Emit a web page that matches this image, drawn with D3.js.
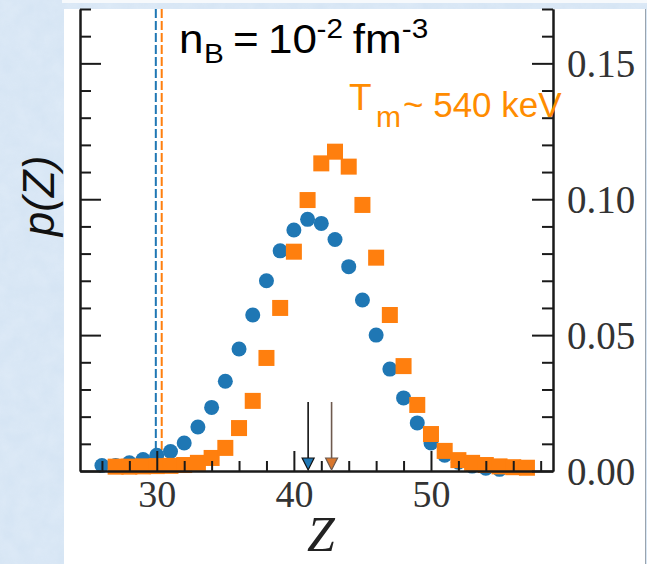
<!DOCTYPE html>
<html>
<head>
<meta charset="utf-8">
<script src="https://cdn.jsdelivr.net/npm/d3@7"></script>
<style>
  body { margin: 0; background: #d4e3f2; }
  svg { display: block; }
  .tick text { font-family: "Liberation Serif", "DejaVu Serif", serif; fill: #333; }
</style>
</head>
<body>
<svg id="chart" width="647" height="564"></svg>
<script>
// blue circles
const blueZ = [26, 27, 28, 29, 30, 31, 32, 33, 34, 35, 36, 37, 38, 39, 40, 41, 42, 43, 44, 45, 46, 47, 48, 49, 50, 51, 52, 53, 54, 55];
const blueP = [0.0020, 0.0020, 0.0030, 0.0042, 0.0058, 0.0072, 0.0103, 0.0162, 0.0234, 0.0330, 0.0449, 0.0574, 0.0700, 0.0810, 0.0887, 0.0926, 0.0911, 0.0852, 0.0752, 0.0629, 0.0500, 0.0375, 0.0269, 0.0177, 0.0103, 0.0058, 0.0032, 0.0018, 0.0010, 0.0006];
// orange squares
const orangeZ = [27, 28, 29, 30, 31, 32, 33, 34, 35, 36, 37, 38, 39, 40, 41, 42, 43, 44, 45, 46, 47, 48, 49, 50, 51, 52, 53, 54, 55, 56, 57];
const orangeP = [0.0016, 0.0016, 0.0017, 0.0018, 0.0019, 0.0022, 0.0030, 0.0048, 0.0085, 0.0158, 0.0258, 0.0416, 0.0600, 0.0807, 0.0997, 0.1132, 0.1175, 0.1120, 0.0979, 0.0785, 0.0574, 0.0386, 0.0243, 0.0136, 0.0074, 0.0040, 0.0030, 0.0022, 0.0017, 0.0014, 0.0012];
// vertical dashed thresholds and mean arrows
const thresholdZ = [29.93, 30.36];
const meanZ = [41.04, 42.75];
const xMajor = [30, 40, 50];
const xMinor = [26, 28, 32, 34, 36, 38, 42, 44, 46, 48, 52, 54, 56, 58];
const yMajor = [0, 0.05, 0.10, 0.15];
const yMinor = [0.01, 0.02, 0.03, 0.04, 0.06, 0.07, 0.08, 0.09, 0.11, 0.12, 0.13, 0.14, 0.16, 0.17];

const blue = "#1f77b4", orange = "#ff7f0e";
const svg = d3.select("#chart");

// slide background
const defs = svg.append("defs");
const f = defs.append("filter").attr("id", "tex").attr("x", 0).attr("y", 0).attr("width", 1).attr("height", 1);
f.append("feTurbulence").attr("type", "fractalNoise").attr("baseFrequency", "0.06").attr("numOctaves", 3).attr("seed", 4);
f.append("feColorMatrix").attr("type", "matrix")
  .attr("values", "0 0 0 0 0.78  0 0 0 0 0.86  0 0 0 0 0.95  0 0 0 -1.1 0.9");
svg.append("rect").attr("width", 647).attr("height", 564).attr("fill", "#d6e5f4");
svg.append("rect").attr("width", 647).attr("height", 564).attr("filter", "url(#tex)").attr("opacity", 0.6);
svg.append("rect").attr("x", 62).attr("y", 0).attr("width", 585).attr("height", 3).attr("fill", "#f6f9fc");
svg.append("rect").attr("x", 64).attr("y", 9).attr("width", 581).attr("height", 555).attr("fill", "#ffffff");
svg.append("line").attr("x1", 645.5).attr("x2", 645.5).attr("y1", 9).attr("y2", 564).attr("stroke", "#9aa4ae").attr("stroke-width", 1);

const x = d3.scaleLinear().domain([24.4, 58.9]).range([80, 553]);
const y = d3.scaleLinear().domain([0, 0.17]).range([471, 9]);

// dashed thresholds
svg.selectAll(".thr").data(thresholdZ).join("line")
  .attr("class", "thr")
  .attr("x1", d => x(d)).attr("x2", d => x(d))
  .attr("y1", y(0.17)).attr("y2", y(0))
  .attr("stroke", (d, i) => i === 0 ? blue : orange)
  .attr("stroke-width", 2)
  .attr("stroke-dasharray", "9,3");

// points
svg.append("g").selectAll("circle").data(blueZ).join("circle")
  .attr("cx", (d) => x(d))
  .attr("cy", (d, i) => y(blueP[i]))
  .attr("r", 7.5)
  .attr("fill", blue);
svg.append("g").selectAll("rect").data(orangeZ).join("rect")
  .attr("x", (d) => x(d) - 8)
  .attr("y", (d, i) => y(orangeP[i]) - 8)
  .attr("width", 16).attr("height", 16)
  .attr("fill", orange);

// axes
function styleAxis(g) {
  g.select(".domain").attr("stroke", "#1a1a1a").attr("stroke-width", 2);
  g.selectAll(".tick line").attr("stroke", "#1a1a1a").attr("stroke-width", 2);
}
svg.append("g").attr("transform", "translate(80,0)")
  .call(d3.axisRight(y).tickValues(yMajor).tickSize(21).tickSizeOuter(0).tickFormat(""))
  .call(styleAxis);
svg.append("g").attr("transform", "translate(80,0)")
  .call(d3.axisRight(y).tickValues(yMinor).tickSize(11).tickSizeOuter(0).tickFormat(""))
  .call(styleAxis);
svg.append("g").attr("transform", "translate(553,0)")
  .call(d3.axisRight(y).tickValues(yMajor).tickSize(-21).tickSizeOuter(0).tickPadding(14).tickFormat(d3.format(".2f")))
  .call(styleAxis)
  .call(g => g.selectAll("text").attr("font-size", 39).attr("dy", "0.34em"));
svg.append("g").attr("transform", "translate(553,0)")
  .call(d3.axisRight(y).tickValues(yMinor).tickSize(-11).tickSizeOuter(0).tickFormat(""))
  .call(styleAxis);
svg.append("g").attr("transform", "translate(0,471)")
  .call(d3.axisBottom(x).tickValues(xMajor).tickSize(-20).tickSizeOuter(0).tickPadding(9).tickFormat(d3.format("d")))
  .call(styleAxis)
  .call(g => g.selectAll("text").attr("font-size", 38));
svg.append("g").attr("transform", "translate(0,471)")
  .call(d3.axisBottom(x).tickValues(xMinor).tickSize(-10).tickSizeOuter(0).tickFormat(""))
  .call(styleAxis);

// mean arrows
const arrowStroke = ["#111111", "#6e5a4e"];
const arrowFill = [blue, "#d9772e"];
const arrows = svg.append("g").selectAll("g").data(meanZ).join("g");
arrows.append("line")
  .attr("x1", d => x(d)).attr("x2", d => x(d))
  .attr("y1", 402).attr("y2", y(0) - 10)
  .attr("stroke", (d, i) => arrowStroke[i]).attr("stroke-width", 1.6);
arrows.append("path")
  .attr("d", d => `M${x(d) - 6},${y(0) - 13} L${x(d) + 6},${y(0) - 13} L${x(d)},${y(0) - 1} Z`)
  .attr("fill", (d, i) => arrowFill[i])
  .attr("stroke", (d, i) => arrowStroke[i]).attr("stroke-width", 1.2);

// axis titles
svg.append("text").attr("x", 321).attr("y", 551).attr("text-anchor", "middle")
  .attr("font-family", "Liberation Serif, serif").attr("font-style", "italic")
  .attr("font-size", 50).attr("fill", "#222").text("Z");
svg.append("text").attr("transform", "translate(54,196) rotate(-90)").attr("text-anchor", "middle")
  .attr("font-family", "Liberation Sans, Arial, sans-serif").attr("font-style", "italic")
  .attr("font-size", 44).attr("fill", "#111").text("p(Z)");

// annotations (slightly widened, like the pasted slide text)
const nb = svg.append("text").attr("transform", "translate(179,53) scale(1.1,1)")
  .attr("font-family", "Liberation Sans, Arial, sans-serif").attr("font-size", 40).attr("fill", "#000");
nb.append("tspan").attr("x", 0).text("n");
nb.append("tspan").attr("x", 22.7).attr("font-size", 27).attr("dy", 10).text("B");
nb.append("tspan").attr("x", 49).attr("dy", -10).text("=");
nb.append("tspan").attr("x", 81).text("10");
nb.append("tspan").attr("x", 125).attr("font-size", 27).attr("dy", -15).text("-2");
nb.append("tspan").attr("x", 158).attr("dy", 15).text("fm");
nb.append("tspan").attr("x", 202.5).attr("font-size", 27).attr("dy", -15).text("-3");

const tm = svg.append("text").attr("x", 349).attr("y", 110)
  .attr("font-family", "Liberation Sans, Arial, sans-serif").attr("font-size", 37).attr("fill", "#ff8c00");
tm.append("tspan").text("T");
tm.append("tspan").attr("x", 376).attr("font-size", 30).attr("dy", 17).text("m");
tm.append("tspan").attr("x", 403).attr("font-size", 35).attr("dy", -10).text("~ 540 keV");
</script>
</body>
</html>
